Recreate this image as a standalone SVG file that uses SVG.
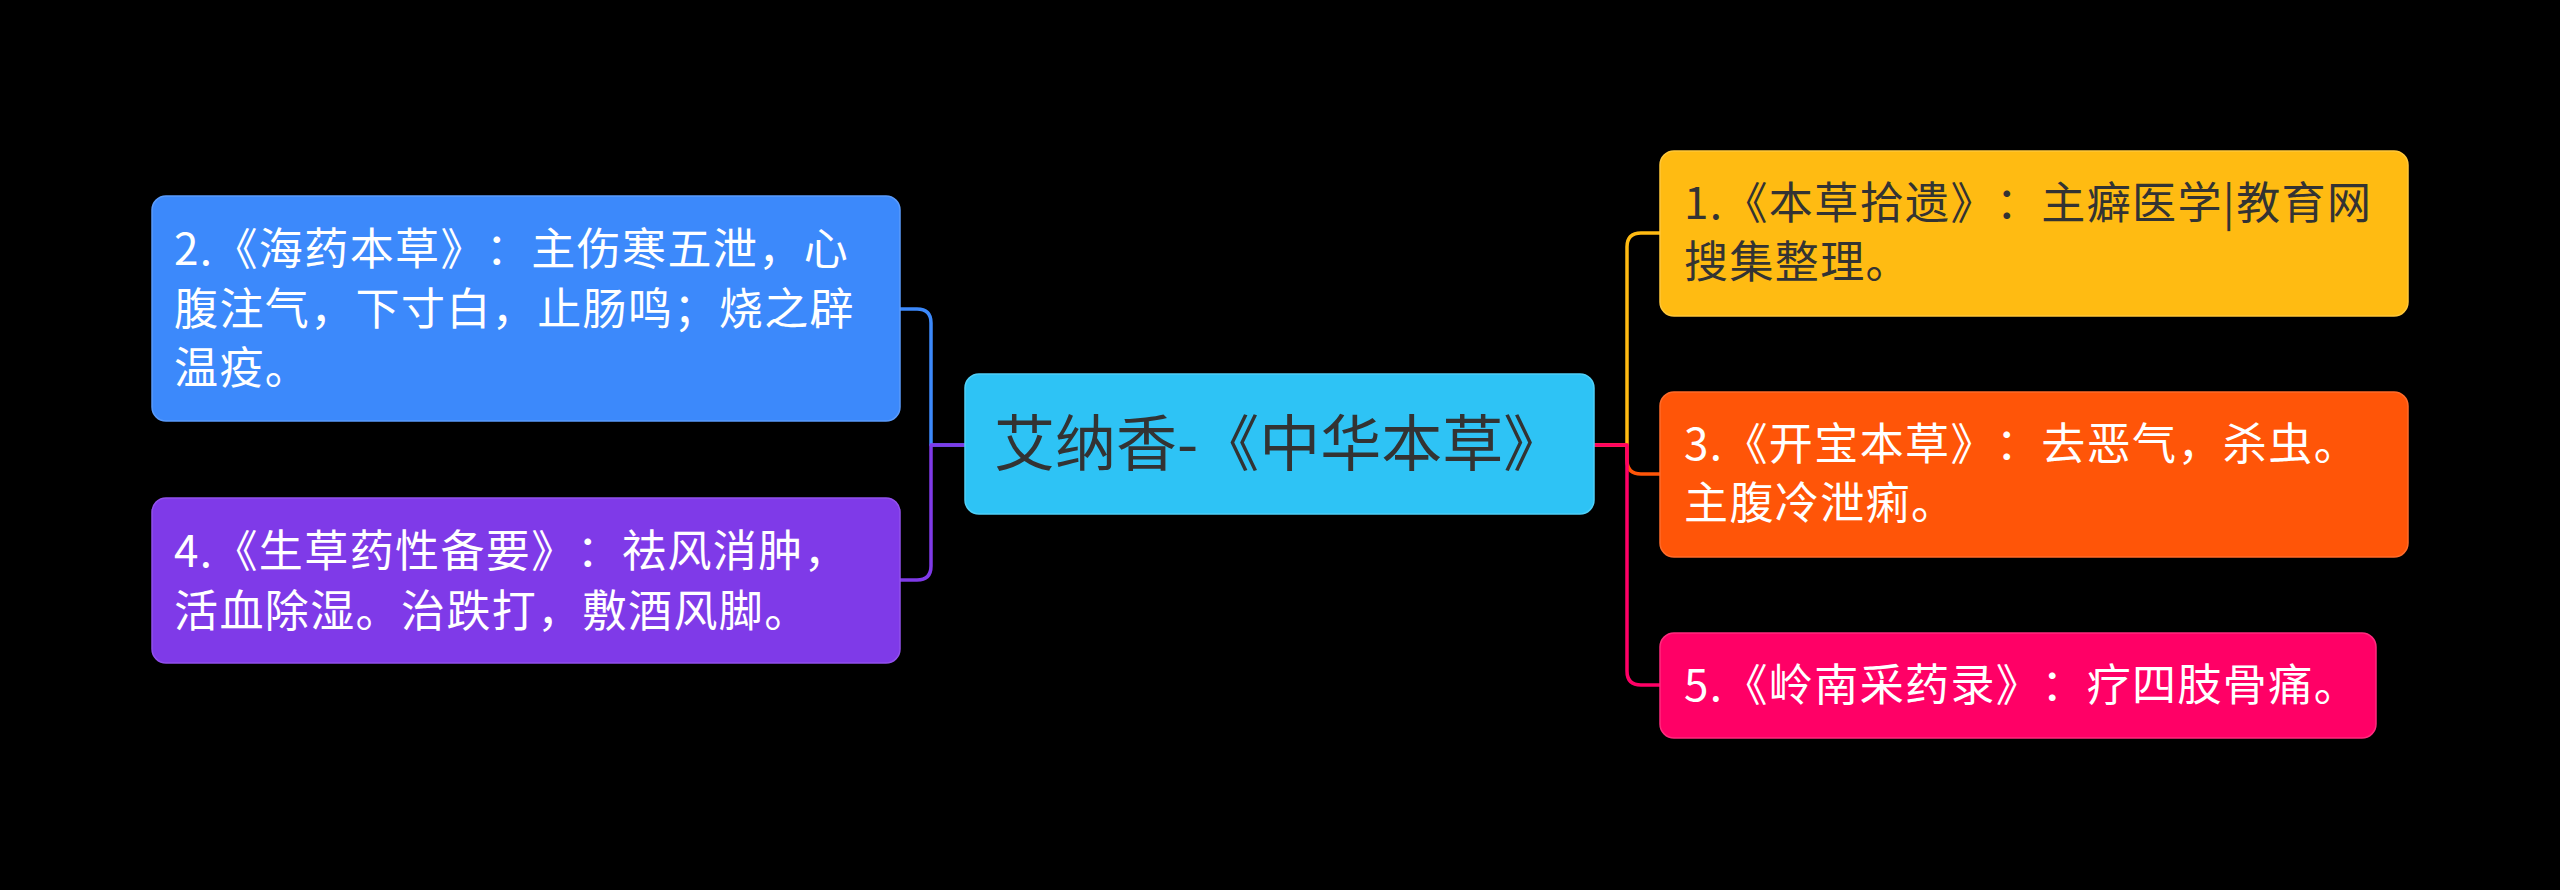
<svg xmlns="http://www.w3.org/2000/svg" width="2560" height="890" viewBox="0 0 2560 890">
<style>
.bg{fill:#000000}
.box{stroke-width:1.5}
.t{font-family:"Noto Sans CJK SC","Noto Sans",sans-serif;font-size:44px;letter-spacing:1.4px;text-spacing-trim:space-all}
.tc{font-family:"Noto Sans CJK SC","Noto Sans",sans-serif;font-size:61px;fill:#333333}
.w{fill:#ffffff}
.d{fill:#333333}
.c{fill:none;stroke-width:3.5;stroke-linecap:round;stroke-linejoin:round}
</style>
<rect class="bg" x="0" y="0" width="2560" height="890"/>
<g id="connectors">
<path class="c" stroke="#3C89FB" d="M965,445 H931 V323 Q931,309 917,309 H900"/>
<path class="c" stroke="#7F3AE8" d="M965,445 H931 V566 Q931,580 917,580 H900"/>
<path class="c" stroke="#FFBB12" d="M1594,445 H1627 V247 Q1627,233 1641,233 H1660"/>
<path class="c" stroke="#FF5508" d="M1594,445 H1627 V460 Q1627,474 1641,474 H1660"/>
<path class="c" stroke="#FF0066" d="M1594,445 H1627 V671 Q1627,685 1641,685 H1660"/>
</g>
<g id="center">
<rect class="box" x="965" y="374" width="629" height="140" rx="14" fill="#2EC3F5" stroke="#4FD0F8"/>
<text class="tc" x="994" y="466">艾纳香-《中华本草》</text>
</g>
<g id="node2">
<rect class="box" x="152" y="196" width="748" height="225" rx="14" fill="#3C89FB" stroke="#5A9BFC"/>
<text class="t w" x="174" y="265">2.《海药本草》：主伤寒五泄，心</text>
<text class="t w" x="174" y="325">腹注气，下寸白，止肠鸣；烧之辟</text>
<text class="t w" x="174" y="384">温疫。</text>
</g>
<g id="node4">
<rect class="box" x="152" y="498" width="748" height="165" rx="14" fill="#7F3AE8" stroke="#9150EC"/>
<text class="t w" x="174" y="567">4.《生草药性备要》：祛风消肿，</text>
<text class="t w" x="174" y="627">活血除湿。治跌打，敷酒风脚。</text>
</g>
<g id="node1">
<rect class="box" x="1660" y="151" width="748" height="165" rx="14" fill="#FFBB12" stroke="#FFC83A"/>
<text class="t d" x="1684" y="219">1.《本草拾遗》：主癖医学|教育网</text>
<text class="t d" x="1684" y="278">搜集整理。</text>
</g>
<g id="node3">
<rect class="box" x="1660" y="392" width="748" height="165" rx="14" fill="#FF5508" stroke="#FF6B2A"/>
<text class="t w" x="1684" y="460">3.《开宝本草》：去恶气，杀虫。</text>
<text class="t w" x="1684" y="519">主腹冷泄痢。</text>
</g>
<g id="node5">
<rect class="box" x="1660" y="633" width="716" height="105" rx="14" fill="#FF0066" stroke="#FF2A7E"/>
<text class="t w" x="1684" y="701">5.《岭南采药录》：疗四肢骨痛。</text>
</g>
</svg>
